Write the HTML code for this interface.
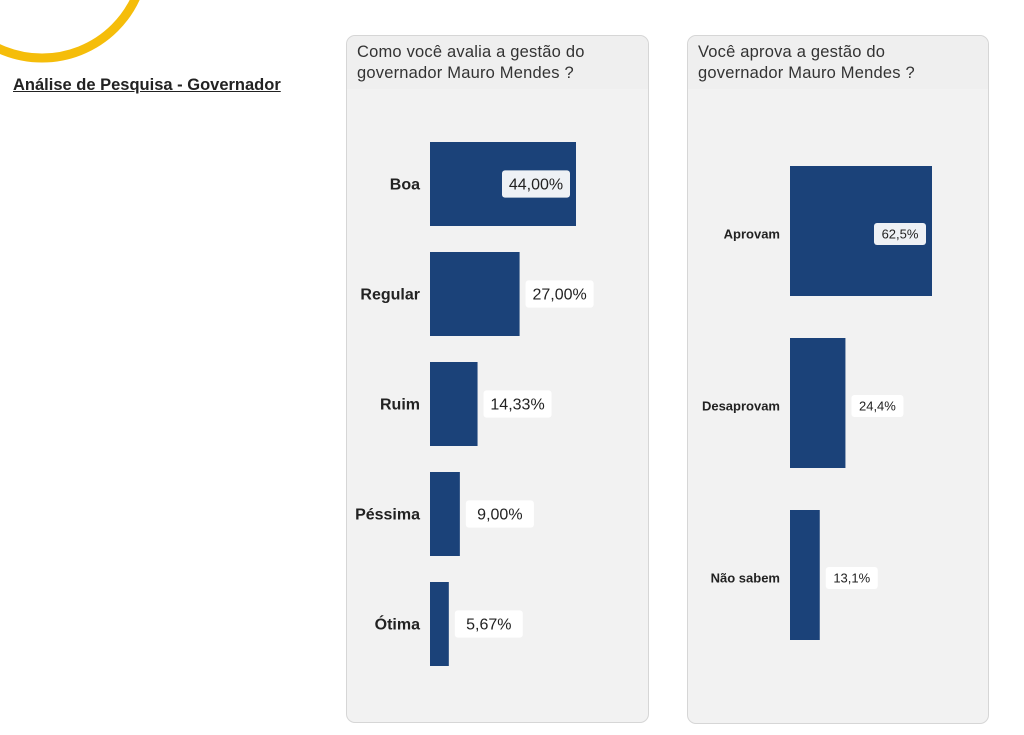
<!DOCTYPE html>
<html><head><meta charset="utf-8"><style>
body{margin:0;width:1024px;height:735px;background:#fff;position:relative;overflow:hidden;font-family:"Liberation Sans","DejaVu Sans",sans-serif}
.panel{position:absolute;background:#f2f2f2;border:1px solid #d6d6d6;border-radius:9px}
.ttl{position:absolute;left:10px;top:6px;font-size:16.5px;line-height:21px;color:#333;letter-spacing:0.2px}
svg{position:absolute;left:0;top:0}
</style></head><body>
<svg width="1024" height="735">
<circle cx="42" cy="-45" r="103" fill="none" stroke="#f5bd0a" stroke-width="9"/>
</svg>
<div style="position:absolute;left:13px;top:76px;font-size:16.5px;color:#222;text-decoration:underline;font-weight:bold">Análise de Pesquisa - Governador</div>
<div class="panel" style="left:346px;top:35px;width:301px;height:686px">
<div style="position:absolute;left:0;top:0;width:301px;height:53px;background:#efefef;border-radius:9px 9px 0 0"></div>
<div class="ttl">Como você avalia a gestão do<br>governador Mauro Mendes ?</div></div>
<div class="panel" style="left:687px;top:35px;width:300px;height:687px">
<div style="position:absolute;left:0;top:0;width:300px;height:53px;background:#efefef;border-radius:9px 9px 0 0"></div>
<div class="ttl">Você aprova a gestão do<br>governador Mauro Mendes ?</div></div>
<svg id="c" width="1024" height="735"></svg>
<script>
const catsA=["Boa","Regular","Ruim","Péssima","Ótima"];
const valsA=[44.00,27.00,14.33,9.00,5.67];
const labelsA=["44,00%","27,00%","14,33%","9,00%","5,67%"];
const catsB=["Aprovam","Desaprovam","Não sabem"];
const valsB=[62.5,24.4,13.1];
const labelsB=["62,5%","24,4%","13,1%"];
const NS="http://www.w3.org/2000/svg";
const svg=document.getElementById('c');
function mk(t,a){const e=document.createElementNS(NS,t);for(const k in a)e.setAttribute(k,a[k]);svg.appendChild(e);return e;}
function draw(cats,vals,labs,x0,scale,y0,step,h,fs,lw,key,dy){
  cats.forEach((c,i)=>{
    const y=y0+i*step,w=vals[i]*scale,cy=y+h/2+dy;
    const b=mk('rect',{x:x0,y:y,width:w,height:h,fill:'#1b4279'});
    
    
    const t=mk('text',{x:x0-10,y:cy+fs*0.35,'text-anchor':'end','font-size':fs,'font-weight':'bold',fill:'#222'});
    t.textContent=c;
    
    
    const bw=lw,inside=w>bw*1.7;
    const bx=inside?x0+w-bw-6:x0+w+6;
    const r=mk('rect',{x:bx,y:cy-fs*0.85,width:bw,height:fs*1.7,rx:3,fill:inside?'#eef1f5':'#fff'});
    
    
    const v=mk('text',{x:bx+bw/2,y:cy+fs*0.35,'text-anchor':'middle','font-size':fs,fill:'#222'});
    v.textContent=labs[i];
    
    
  });
}
draw(catsA,valsA,labelsA,430,146/44,142,110,84,16,68,'avaliacao',0);
draw(catsB,valsB,labelsB,790,142/62.5,166,172,130,13,52,'aprovacao',3);
</script>
</body></html>
